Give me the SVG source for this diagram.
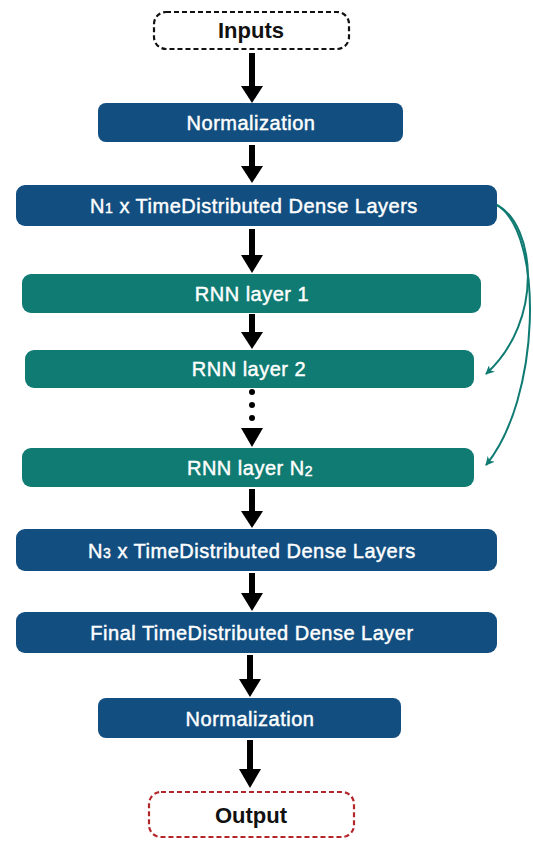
<svg xmlns="http://www.w3.org/2000/svg" width="533" height="841" viewBox="0 0 533 841">
<style>
.blue{fill:#124e80}
.teal{fill:#0f7b72}
.lbl{font-family:"Liberation Sans",Arial,sans-serif;font-size:20px;letter-spacing:0.5px;fill:#ffffff;stroke:#ffffff;stroke-width:0.45;text-anchor:middle;dominant-baseline:central}
.term{font-family:"Liberation Sans",Arial,sans-serif;font-size:22px;font-weight:bold;fill:#111;text-anchor:middle;dominant-baseline:central}
.sh{stroke:#000;stroke-width:6}
.hd{fill:#000}
.skip{fill:none;stroke:#0f7b72;stroke-width:2}
</style>
<defs>
<marker id="ta" viewBox="0 0 10 10" refX="9" refY="5" markerWidth="9" markerHeight="9" orient="auto" markerUnits="userSpaceOnUse">
<path d="M0,0 L10,5 L0,10 L3,5 Z" fill="#0f7b72"/>
</marker>
</defs>
<g id="inputs"><rect x="154" y="12" width="195" height="37" rx="12" fill="#fff" stroke="#111" stroke-width="2.2" stroke-dasharray="5,3"/><text class="term" x="251" y="30">Inputs</text></g>
<g id="norm1"><rect class="blue" x="98" y="103" width="305" height="39" rx="8"/><text class="lbl" x="251" y="123">Normalization</text></g>
<g id="dense1"><rect class="blue" x="16" y="185" width="481" height="41" rx="9"/><text class="lbl" x="254" y="206">N<tspan font-size="14" dy="2">1</tspan><tspan dy="-2"> x TimeDistributed Dense Layers</tspan></text></g>
<g id="rnn1"><rect class="teal" x="22" y="274" width="459" height="39" rx="9"/><text class="lbl" x="252" y="294">RNN layer 1</text></g>
<g id="rnn2"><rect class="teal" x="25" y="350" width="449" height="38" rx="9"/><text class="lbl" x="249" y="369">RNN layer 2</text></g>
<g id="rnnN"><rect class="teal" x="22" y="448" width="452" height="39" rx="9"/><text class="lbl" x="250" y="468">RNN layer N<tspan font-size="14" dy="3">2</tspan></text></g>
<g id="dense3"><rect class="blue" x="16" y="529" width="481" height="42" rx="9"/><text class="lbl" x="252" y="551">N<tspan font-size="14" dy="2">3</tspan><tspan dy="-2"> x TimeDistributed Dense Layers</tspan></text></g>
<g id="final"><rect class="blue" x="16" y="612" width="481" height="41" rx="9"/><text class="lbl" x="252" y="633">Final TimeDistributed Dense Layer</text></g>
<g id="norm2"><rect class="blue" x="98" y="698" width="303" height="40" rx="8"/><text class="lbl" x="250" y="719">Normalization</text></g>
<g id="output"><rect x="149" y="792" width="205" height="45" rx="12" fill="#fff" stroke="#b3262b" stroke-width="2.2" stroke-dasharray="5,3"/><text class="term" x="251" y="815">Output</text></g>
<g id="connectors">
<line class="sh" x1="252" y1="53" x2="252" y2="88"/><path class="hd" d="M241,86 L263,86 L252,103 Z"/>
<line class="sh" x1="252" y1="145" x2="252" y2="168"/><path class="hd" d="M241,166 L263,166 L252,183 Z"/>
<line class="sh" x1="252" y1="229" x2="252" y2="257"/><path class="hd" d="M241,255 L263,255 L252,273 Z"/>
<line class="sh" x1="252" y1="314" x2="252" y2="334"/><path class="hd" d="M241,332 L263,332 L252,349 Z"/>
<circle cx="252" cy="392" r="3"/><circle cx="252" cy="405" r="3"/><circle cx="252" cy="418" r="3"/>
<path class="hd" d="M241,428 L263,428 L252,447 Z"/>
<line class="sh" x1="252" y1="489" x2="252" y2="513"/><path class="hd" d="M241,511 L263,511 L252,528 Z"/>
<line class="sh" x1="252" y1="573" x2="252" y2="595"/><path class="hd" d="M241,593 L263,593 L252,611 Z"/>
<line class="sh" x1="250" y1="655" x2="250" y2="681"/><path class="hd" d="M239,679 L261,679 L250,697 Z"/>
<line class="sh" x1="250" y1="740" x2="250" y2="771"/><path class="hd" d="M239,769 L261,769 L250,788 Z"/>
<path class="skip" d="M497,205 C535,225 545,320 486,374" marker-end="url(#ta)"/>
<path class="skip" d="M497,205 C545,235 540,400 486,465" marker-end="url(#ta)"/>
</g>
</svg>
